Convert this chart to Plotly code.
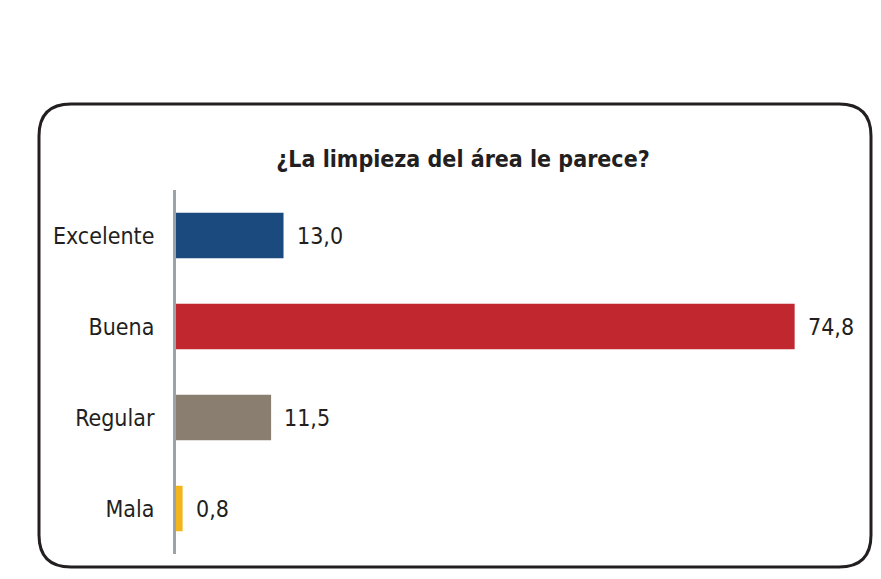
import plotly.graph_objects as go

categories = ["Excelente", "Buena", "Regular", "Mala"]
values = [13.0, 74.8, 11.5, 0.8]
bar_colors = ["#1a4a7e", "#c0272f", "#8a7e70", "#f3b51c"]
title_text = "¿La limpieza del área le parece?"
value_labels = [f"{v:.1f}".replace(".", ",") for v in values]

FONT = "DejaVu Sans Condensed, sans-serif"
OFF = 8  # page body margin
W, H = 881 - OFF, 579 - 2 * OFF
L, R, T = 176 - OFF, 2, 190 - OFF
B = H - (554 - OFF)
PW, PH = W - L - R, H - T - B

def px(x):
    return (x - OFF - L) / PW

def py(y):
    return (H - B - (y - OFF)) / PH

fig = go.Figure(go.Bar(
    x=values, y=categories, orientation="h",
    marker=dict(color=bar_colors, line=dict(width=0)),
    width=0.5, hoverinfo="skip",
))

for c, v, t in zip(categories, values, value_labels):
    fig.add_annotation(x=v, y=c, text=t, showarrow=False, xanchor="left",
                       xshift=11, font=dict(family=FONT, size=23, color="#231f20"))

# rounded frame
x0, x1, y0, y1, r = 39, 871, 104, 567, 32
path = (f"M {px(x0+r)},{py(y0)} L {px(x1-r)},{py(y0)} Q {px(x1)},{py(y0)} {px(x1)},{py(y0+r)} "
        f"L {px(x1)},{py(y1-r)} Q {px(x1)},{py(y1)} {px(x1-r)},{py(y1)} "
        f"L {px(x0+r)},{py(y1)} Q {px(x0)},{py(y1)} {px(x0)},{py(y1-r)} "
        f"L {px(x0)},{py(y0+r)} Q {px(x0)},{py(y0)} {px(x0+r)},{py(y0)} Z")
fig.add_shape(type="path", xref="paper", yref="paper", path=path,
              line=dict(color="#231f20", width=3), layer="below")

fig.update_layout(
    width=W, height=H,
    margin=dict(l=L, r=R, t=T, b=B),
    paper_bgcolor="white", plot_bgcolor="white",
    showlegend=False,
    title=dict(text=f"<b>{title_text}</b>", x=(463 - OFF) / W, xanchor="center",
               y=1 - (159 - OFF) / H, yanchor="middle", yref="container",
               font=dict(family=FONT, size=23, color="#231f20")),
    xaxis=dict(range=[0, 85 * PW / 703], visible=False, fixedrange=True),
    yaxis=dict(range=[3.5, -0.5], showgrid=False, zeroline=False,
               showline=True, linecolor="#9ea3a8", linewidth=3,
               ticks="", ticklabelstandoff=14,
               tickfont=dict(family=FONT, size=23, color="#231f20"),
               fixedrange=True),
)

fig.write_html("out.html")
